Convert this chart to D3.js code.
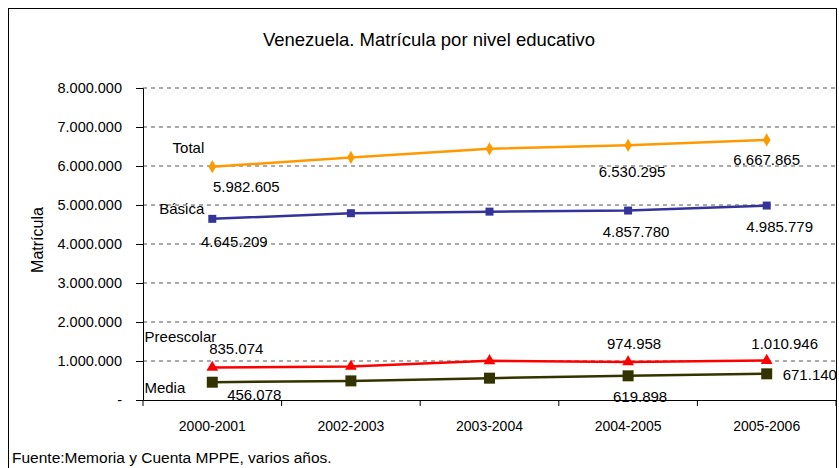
<!DOCTYPE html>
<html>
<head>
<meta charset="utf-8">
<script src="https://cdn.jsdelivr.net/npm/d3@7"></script>
<style>
  body { margin: 0; background: #fff; }
  text { font-family: "Liberation Sans", Arial, sans-serif; fill: #000; }
</style>
</head>
<body>
<div id="chart"></div>
<script>
// Data
const periods = ["2000-2001", "2002-2003", "2003-2004", "2004-2005", "2005-2006"];
const total = [5982605, 6220000, 6440000, 6530295, 6667865];
const basica = [4645209, 4790000, 4830000, 4857780, 4985779];
const preescolar = [835074, 860000, 1005000, 974958, 1010946];
const media = [456078, 490000, 560000, 619898, 671140];
const yTicks = [0, 1000000, 2000000, 3000000, 4000000, 5000000, 6000000, 7000000, 8000000];

// which points carry a value label
const labelled = [0, 3, 4];

const W = 839, H = 468;
const margin = { top: 88, right: 3, bottom: 68, left: 143 },
      width = W - margin.left - margin.right,
      height = H - margin.top - margin.bottom;

const svg = d3.select("#chart").append("svg")
    .attr("width", W)
    .attr("height", H);

// outer chart border
svg.append("rect")
    .attr("x", 8.5).attr("y", 8.5)
    .attr("width", 828).attr("height", 480)
    .attr("fill", "none")
    .attr("stroke", "#000")
    .attr("stroke-width", 1);

svg.append("text")
    .attr("x", 429).attr("y", 46)
    .attr("text-anchor", "middle")
    .style("font-size", "18.5px")
    .text("Venezuela. Matrícula por nivel educativo");

const g = svg.append("g")
    .attr("transform", `translate(${margin.left},${margin.top})`);

const x = d3.scaleBand().domain(periods).range([0, width]);
const y = d3.scaleLinear().domain([0, 8000000]).range([height, 0]);
const fmt = v => v === 0 ? "-" : d3.format(",")(v).replace(/,/g, ".");

// dashed gridlines
g.selectAll(".grid")
    .data(yTicks.filter(d => d > 0))
  .enter().append("line")
    .attr("x1", 0).attr("x2", width)
    .attr("y1", d => y(d)).attr("y2", d => y(d))
    .attr("stroke", "#555")
    .attr("stroke-width", 1)
    .attr("stroke-dasharray", "4,4");

// y axis
const yAxis = g.append("g")
    .call(d3.axisLeft(y).tickValues(yTicks).tickFormat(fmt).tickSize(7).tickPadding(14));
yAxis.select(".domain").attr("stroke", "#000");
yAxis.selectAll("text").style("font-size", "14.5px").attr("font-family", null);

// x axis, ticks on band boundaries
const xAxis = g.append("g")
    .attr("transform", `translate(0,${height})`)
    .call(d3.axisBottom(x).tickSize(0).tickPadding(21));
xAxis.select(".domain").attr("stroke", "#000");
xAxis.selectAll("text").style("font-size", "14px").attr("font-family", null);
g.append("g").selectAll("line")
    .data(d3.range(periods.length + 1))
  .enter().append("line")
    .attr("x1", i => i * x.step()).attr("x2", i => i * x.step())
    .attr("y1", height).attr("y2", height + 6)
    .attr("stroke", "#000");

svg.append("text")
    .attr("transform", "translate(43,240) rotate(-90)")
    .attr("text-anchor", "middle")
    .style("font-size", "16px")
    .text("Matrícula");

svg.append("text")
    .attr("x", 12).attr("y", 463)
    .style("font-size", "15.5px")
    .text("Fuente:Memoria y Cuenta MPPE, varios años.");

const cx = i => x(periods[i]) + x.bandwidth() / 2;

const series = [
  { name: "Total", values: total, color: "#FF9900", symbol: d3.symbolDiamond, size: 50,
    nameAt: [-8, -14, "end"], labels: [[34, 25], [4, 32], [0, 25]] },
  { name: "Básica", values: basica, color: "#333399", symbol: d3.symbolSquare, size: 64,
    nameAt: [-8, -5, "end"], labels: [[22, 28], [8, 26], [13, 26]] },
  { name: "Preescolar", values: preescolar, color: "#FF0000", symbol: d3.symbolTriangle, size: 60,
    nameAt: [4, -25, "end"], labels: [[24, -13], [6, -13], [18, -12]] },
  { name: "Media", values: media, color: "#333300", symbol: d3.symbolSquare, size: 121,
    nameAt: [-27, 11, "end"], labels: [[42, 18], [12, 26], [16, 6, "start"]] }
];

const line = d3.line()
    .x((d, i) => cx(i))
    .y(d => y(d));

series.forEach(s => {
  g.append("path")
      .datum(s.values)
      .attr("fill", "none")
      .attr("stroke", s.color)
      .attr("stroke-width", 2.5)
      .attr("d", line);

  g.selectAll(null)
      .data(s.values)
    .enter().append("path")
      .attr("d", d3.symbol().type(s.symbol).size(s.size))
      .attr("transform", (d, i) => `translate(${cx(i)},${y(d)})`)
      .attr("fill", s.color);

  g.append("text")
      .attr("x", cx(0) + s.nameAt[0])
      .attr("y", y(s.values[0]) + s.nameAt[1])
      .attr("text-anchor", s.nameAt[2])
      .style("font-size", "15px")
      .text(s.name);

  labelled.forEach((i, k) => {
    const off = s.labels[k];
    g.append("text")
        .attr("x", cx(i) + off[0])
        .attr("y", y(s.values[i]) + off[1])
        .attr("text-anchor", off[2] || "middle")
        .style("font-size", "15px")
        .text(fmt(s.values[i]));
  });
});
</script>
</body>
</html>
